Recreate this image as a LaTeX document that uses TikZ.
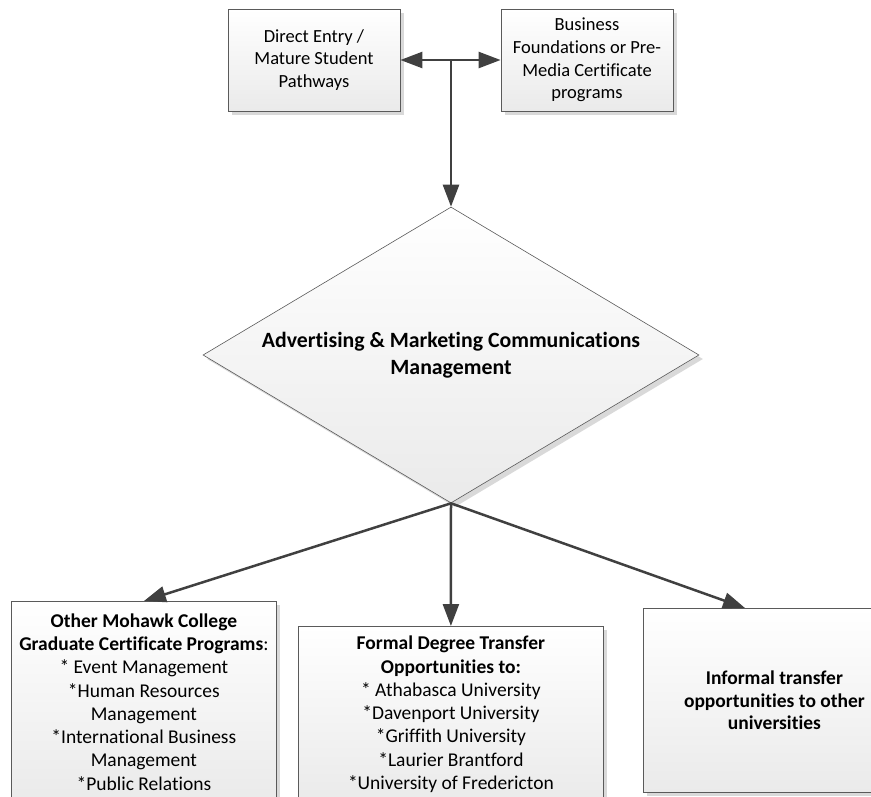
\documentclass[tikz,border=0pt]{standalone}
\usepackage{fontspec}
\setmainfont{Carlito}[Ligatures=NoCommon]
\usetikzlibrary{shapes.geometric,arrows.meta,shadows}
\definecolor{arrowgray}{HTML}{404040}
\definecolor{linegray}{HTML}{5A5A5A}
\definecolor{shadegray}{HTML}{EAEAEA}
\definecolor{shadowgray}{HTML}{D9D9D9}

\begin{document}
\begin{tikzpicture}[x=1pt,y=-1pt,
    box/.style={draw=linegray,line width=0.8pt,top color=white,bottom color=shadegray,
      drop shadow={shadow xshift=4pt,shadow yshift=-4pt,fill=shadowgray,opacity=1},
      align=center,inner sep=0pt,font=\fontsize{18.5}{22.6}\selectfont},
    lowbox/.style={box,anchor=north west,font=\fontsize{19.5}{23.3}\selectfont},
    flow/.style={draw=arrowgray,line width=2.5pt,-{Triangle[length=22pt,width=16pt]}}]

    \useasboundingbox (0,0) rectangle (871,796);
    \clip (0,0) rectangle (871,796);

    % entry routes
    \node[box,minimum width=172pt,minimum height=102pt] (entry) at (314,60)
    {Direct Entry /\\Mature Student\\Pathways};

    \node[box,minimum width=172pt,minimum height=102pt] (found) at (587,60)
    {Business\\Foundations or Pre-\\Media Certificate\\programs};

    \coordinate (split) at (451,60);

    % the program
    \node[box,diamond,aspect=1.676,line width=0.6pt,minimum width=496pt,minimum height=296pt,
      font=\bfseries\fontsize{21.8}{27}\selectfont] (amc) at (451,355)
    {Advertising \& Marketing Communications\\Management};

    % what comes after
    \node[lowbox,minimum width=265pt,minimum height=201pt] (other) at (11,601)
    {\textbf{Other Mohawk College}\\
      \textbf{Graduate Certificate Programs}:\\
      {}* Event Management\\{}*Human Resources\\Management\\
      {}*International Business\\Management\\{}*Public Relations};

    \node[lowbox,minimum width=305pt,minimum height=176pt] (degree) at (298,626)
    {\textbf{Formal Degree Transfer}\\
      \textbf{Opportunities to:}\\
      {}* Athabasca University\\{}*Davenport University\\{}*Griffith University\\
      {}*Laurier Brantford\\{}*University of Fredericton};

    \node[lowbox,minimum width=262pt,minimum height=184pt,
      font=\bfseries\fontsize{19.5}{22.6}\selectfont] (informal) at (643,608)
    {Informal transfer\\opportunities to other\\universities};

    \draw[flow] (split) -- (entry);
    \draw[flow] (split) -- (found);
    \draw[flow] (split) -- (amc);

    \draw[flow] (amc.south) -- (other.north);
    \draw[flow] (amc.south) -- (degree.north);
    \draw[flow] (amc.south) -- ([xshift=102pt]informal.north west);

  \end{tikzpicture}
\end{document}
